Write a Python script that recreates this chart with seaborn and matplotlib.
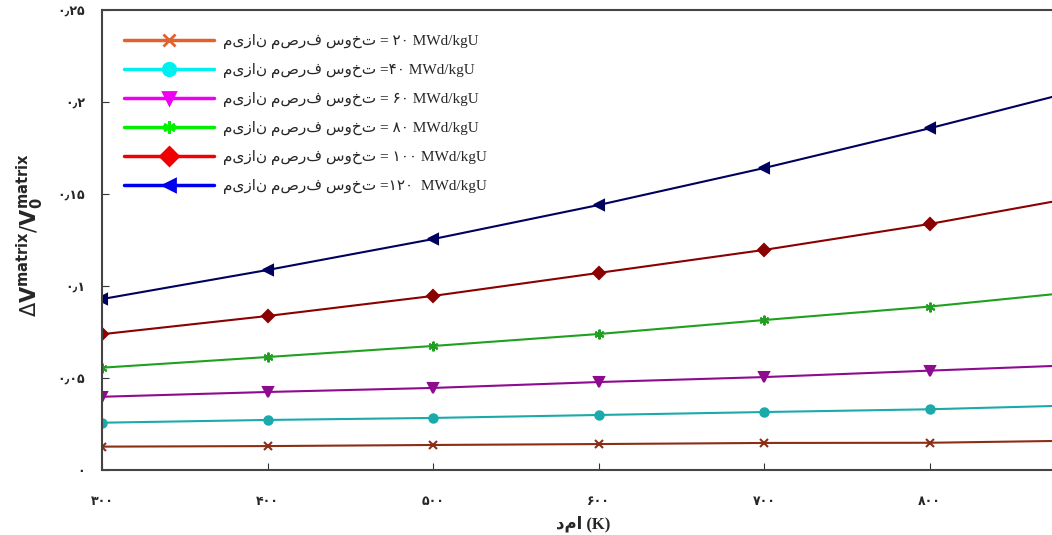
import matplotlib
matplotlib.use("Agg")
import matplotlib.pyplot as plt
import seaborn as sns
import pandas as pd
from matplotlib.lines import Line2D

# ---- data ----
temperature = [300, 400, 500, 600, 700, 800, 900]
burnup_labels = ["۲۰", "۴۰", "۶۰", "۸۰", "۱۰۰", "۱۲۰"]
bu20 = [0.0127, 0.0130, 0.0136, 0.0141, 0.0147, 0.0148, 0.0161]
bu40 = [0.0257, 0.0272, 0.0283, 0.0299, 0.0315, 0.0330, 0.0354]
bu60 = [0.0398, 0.0424, 0.0446, 0.0478, 0.0505, 0.0540, 0.0574]
bu80 = [0.0556, 0.0614, 0.0674, 0.0739, 0.0815, 0.0888, 0.0978]
bu100 = [0.0738, 0.0837, 0.0946, 0.1071, 0.1196, 0.1337, 0.1500]
bu120 = [0.0929, 0.1087, 0.1255, 0.1440, 0.1641, 0.1857, 0.2087]
x_ticks = [300, 400, 500, 600, 700, 800]
x_tick_labels = ["۳۰۰", "۴۰۰", "۵۰۰", "۶۰۰", "۷۰۰", "۸۰۰"]
y_ticks = [0, 0.05, 0.1, 0.15, 0.2, 0.25]
y_tick_labels = ["۰", "۰٫۰۵", "۰٫۱", "۰٫۱۵", "۰٫۲", "۰٫۲۵"]
legend_texts = [
    "میزان مصرف سوخت = ۲۰ MWd/kgU",
    "میزان مصرف سوخت =۴۰ MWd/kgU",
    "میزان مصرف سوخت = ۶۰ MWd/kgU",
    "میزان مصرف سوخت = ۸۰ MWd/kgU",
    "میزان مصرف سوخت = ۱۰۰ MWd/kgU",
    "میزان مصرف سوخت =۱۲۰  MWd/kgU",
]
x_label = "دما (K)"

series = [bu20, bu40, bu60, bu80, bu100, bu120]
line_colors = ["#8B2E16", "#1AAAAA", "#8E0A8E", "#1FA01F", "#8B0000", "#00005E"]
legend_colors = ["#E0622E", "#00F0F0", "#F000F0", "#00F000", "#F00000", "#0000F0"]
markers = ["x", "o", "v", (6, 2, 0), "D", "<"]
msizes = [6, 6, 7, 7, 6, 7]

rows = []
for lab, vals in zip(burnup_labels, series):
    for t, v in zip(temperature, vals):
        rows.append({"T": t, "val": v, "bu": lab})
df = pd.DataFrame(rows)

sns.set_style("ticks")
plt.rcParams["font.family"] = ["DejaVu Sans"]

fig = plt.figure(figsize=(10.52, 5.35), dpi=100)
# axes extends past the right edge of the figure (reference is cropped)
ax = fig.add_axes([102 / 1052, (535 - 470) / 535, 993 / 1052, 460 / 535])

for lab, col, mk, ms in zip(burnup_labels, line_colors, markers, msizes):
    sub = df[df["bu"] == lab]
    sns.lineplot(data=sub, x="T", y="val", ax=ax, color=col, marker=mk,
                 markersize=ms, markeredgecolor=col, markeredgewidth=1.5,
                 linewidth=1.5, legend=False, clip_on=True)

ax.set_xlim(300, 900)
ax.set_ylim(0, 0.25)
ax.set_xticks(x_ticks)
ax.set_xticklabels(x_tick_labels, fontsize=9, fontweight="bold")
ax.set_yticks(y_ticks)
ax.set_yticklabels(y_tick_labels, fontsize=9, fontweight="bold")
ax.tick_params(axis="both", direction="in", length=5, color="#333333")
ax.tick_params(axis="x", pad=18)
ax.tick_params(axis="y", pad=12)
for s in ax.spines.values():
    s.set_color("#444444")
    s.set_linewidth(1.5)
ax.set_xlabel("")
ax.set_ylabel("")

fig.text(583 / 1052, 1 - 524 / 535, x_label, ha="center", va="center",
         fontsize=12, fontweight="bold", family=["Liberation Serif", "DejaVu Sans"])
fig.text(30 / 1052, 1 - 235 / 535,
         r"$\Delta\mathbf{V}^{\mathbf{matrix}}/\mathbf{V}_{\mathbf{0}}^{\mathbf{matrix}}$",
         rotation=90, ha="center", va="center", fontsize=15)

handles = [Line2D([0], [0], color=c, marker=m, markersize=9, markeredgewidth=2,
                  markeredgecolor=c, linewidth=2.5)
           for c, m in zip(legend_colors, markers)]
leg = ax.legend(handles, legend_texts, loc="upper left", bbox_to_anchor=(0.008, 0.978),
                frameon=False, handlelength=5.9, handletextpad=0.6, labelspacing=0.92,
                prop={"family": ["Liberation Serif", "DejaVu Sans"], "size": 11})

fig.savefig("out.png", dpi=100)
